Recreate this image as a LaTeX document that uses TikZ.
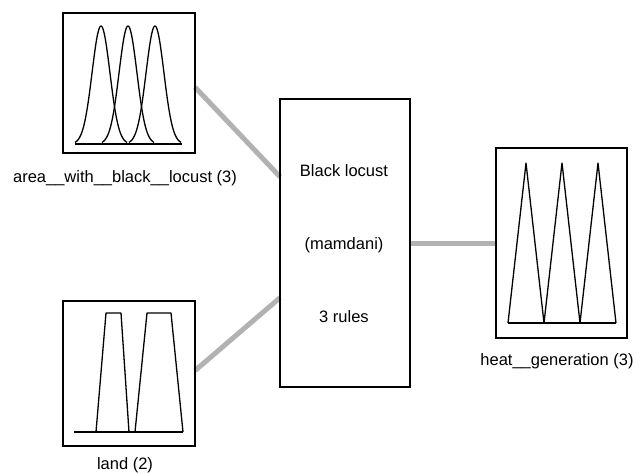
\documentclass[tikz,border=0pt]{standalone}
\usepackage{fontspec}
\setmainfont{Liberation Sans}
\usetikzlibrary{calc}
\definecolor{linkgray}{RGB}{178,178,178}
\pgfdeclarelayer{background}
\pgfsetlayers{background,main}
\begin{document}
\begin{tikzpicture}[x=1pt,y=-1pt,
  mfbox/.style={draw,line width=2.6pt,inner sep=0pt,outer sep=0pt},
  link/.style={draw=linkgray,line width=5pt},
  mf/.style={line width=1.3pt,line join=round},
  lbl/.style={font=\fontsize{16.5}{19}\selectfont,inner sep=0pt}]
\useasboundingbox (0,0) rectangle (634,473);

% input, rule and output blocks
\node[mfbox,minimum width=132pt,minimum height=140pt] (inA) at (129,83) {};
\node[mfbox,minimum width=132pt,minimum height=145pt] (inB) at (129,373.5) {};
\node[mfbox,minimum width=130pt,minimum height=288pt] (rules) at (345,243) {};
\node[mfbox,minimum width=131pt,minimum height=190pt] (outC) at (561.5,243) {};

% labels
\node[lbl] (labA) at (125,178) {area\_\_with\_\_black\_\_locust (3)};
\node[lbl] (labB) at (125,465) {land (2)};
\node[lbl] (labC) at (557,361) {heat\_\_generation (3)};
\node[lbl] (t1) at (344,171) {Black locust};
\node[lbl] (t2) at (344,245) {(mamdani)};
\node[lbl] (t3) at (344,317) {3 rules};

% connectors behind the blocks
\begin{pgfonlayer}{background}
\draw[link] ($(inA.north east)!0.53!(inA.south east)$) -- ($(rules.north west)!0.27!(rules.south west)$);
\draw[link] ($(inB.north east)!0.48!(inB.south east)$) -- ($(rules.north west)!0.69!(rules.south west)$);
\draw[link] (rules.east) -- (outC.west);
\end{pgfonlayer}

% gaussian membership functions
\draw[mf] (75,144) -- (182,144);
\foreach \c in {101,128,155}
  \draw[mf] plot[domain=-26:26,samples=61,smooth]
    ({\c+\x},{144-118*exp(-0.5*(\x/8.9)*(\x/8.9))});

% trapezoidal membership functions
\draw[mf] (74,432) -- (183,432);
\draw[mf] (96,432) -- (106,313) -- (121,313) -- (129,432);
\draw[mf] (135,432) -- (147,313) -- (171,313) -- (183,432);

% triangular membership functions
\draw[mf] (508,323) -- (616,323);
\draw[mf] (508,323) -- (526,163) -- (544,323) -- (562,163) -- (580,323) -- (598,163) -- (616,323);
\end{tikzpicture}
\end{document}
